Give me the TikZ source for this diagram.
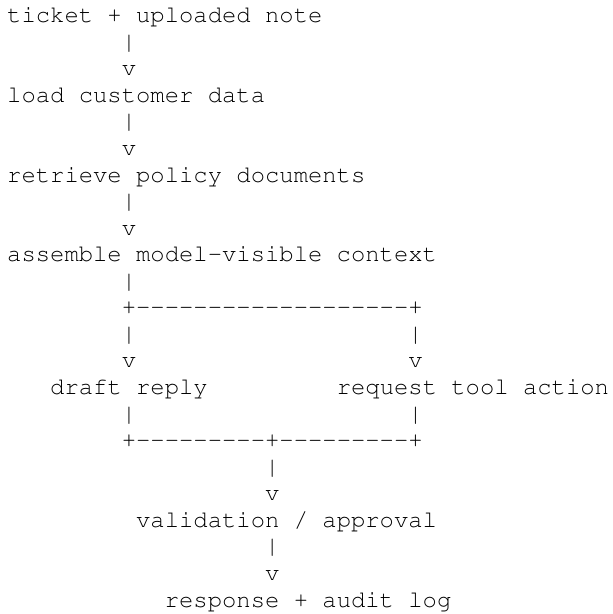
\documentclass[tikz,border=0pt]{standalone}
\usepackage[T1]{fontenc}
% Courier (URW clone) through NFSS: a thin slab-serif monospace, 0.6em per cell
% \hy is a hyphen that never joins its neighbour into a ligature
\newcommand{\hy}{-{}}

\tikzset{
  % one character cell = 14.33pt wide, one text row = 26.56pt tall
  art/.style={anchor=base west, inner sep=0pt, outer sep=0pt,
    font=\fontfamily{pcr}\fontsize{23.88pt}{26.56pt}\selectfont, text=black},
}

\begin{document}
\begin{tikzpicture}[x=14.33pt, y=-26.56pt]
  \useasboundingbox (-7.2pt,22.7pt) rectangle (605.8pt,-591.3pt);

  % main chain
  \node[art] (ticket)   at (0,0)  {ticket + uploaded note};
  \node[art] (barA)     at (8,1)  {|};
  \node[art] (arrA)     at (8,2)  {v};
  \node[art] (load)     at (0,3)  {load customer data};
  \node[art] (barB)     at (8,4)  {|};
  \node[art] (arrB)     at (8,5)  {v};
  \node[art] (retrieve) at (0,6)  {retrieve policy documents};
  \node[art] (barC)     at (8,7)  {|};
  \node[art] (arrC)     at (8,8)  {v};
  \node[art] (assemble) at (0,9)  {assemble model\hy visible context};
  \node[art] (barD)     at (8,10) {|};

  % fork into two branches
  \node[art] (fork)     at (8,11) {+\hy\hy\hy\hy\hy\hy\hy\hy\hy\hy\hy\hy\hy\hy\hy\hy\hy\hy\hy+};
  \node[art] (barEl)    at (8,12) {|};
  \node[art] (barEr)    at (28,12) {|};
  \node[art] (arrEl)    at (8,13) {v};
  \node[art] (arrEr)    at (28,13) {v};
  \node[art] (draft)    at (3,14) {draft reply};
  \node[art] (tool)     at (23,14) {request tool action};
  \node[art] (barFl)    at (8,15) {|};
  \node[art] (barFr)    at (28,15) {|};

  % join and tail
  \node[art] (join)     at (8,16) {+\hy\hy\hy\hy\hy\hy\hy\hy\hy+\hy\hy\hy\hy\hy\hy\hy\hy\hy+};
  \node[art] (barG)     at (18,17) {|};
  \node[art] (arrG)     at (18,18) {v};
  \node[art] (valid)    at (9,19) {validation / approval};
  \node[art] (barH)     at (18,20) {|};
  \node[art] (arrH)     at (18,21) {v};
  \node[art] (response) at (11,22) {response + audit log};
\end{tikzpicture}
\end{document}
